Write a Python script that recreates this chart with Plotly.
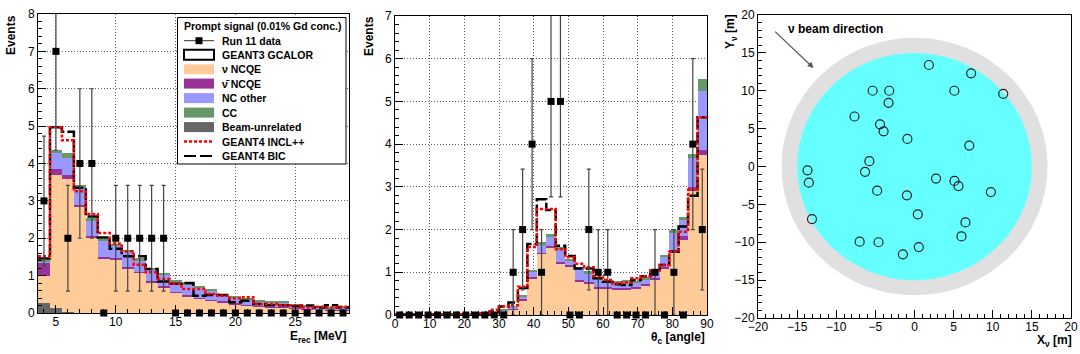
import numpy as np
import plotly.graph_objects as go

W, H = 1080, 354
FONT = "Liberation Sans, Arial, Helvetica, sans-serif"

# ---------------- left panel: E_rec, 1 MeV bins from 3.5 to 29.5 ----------------
erec_edges = np.arange(3.5, 30.0, 1.0)
erec_data = [3, 7, 2, 4, 4, 0, 2, 2, 2, 2, 2, 0, 0, 0, 0, 0, 0, 0, 0, 0, 0, 0, 0, 0, 0, 0]
erec_beam = [0.28, 0.14, 0.03, 0.01, 0, 0, 0, 0, 0, 0, 0, 0, 0, 0, 0, 0, 0, 0, 0, 0, 0, 0, 0, 0, 0, 0]
erec_nu_ncqe = [0.72, 3.56, 3.56, 2.82, 2.02, 1.46, 1.44, 1.20, 1.08, 0.82, 0.68, 0.55, 0.45,
                0.38, 0.33, 0.29, 0.24, 0.20, 0.18, 0.16, 0.14, 0.12, 0.10, 0.09, 0.08, 0.08]
erec_nubar_ncqe = [0.36, 0.14, 0.09, 0.07, 0.04, 0.04, 0.04, 0.04, 0.03, 0.03, 0.03, 0.02, 0.02,
                   0.02, 0.02, 0.02, 0.02, 0.02, 0.01, 0.01, 0.01, 0.01, 0.01, 0.01, 0.01, 0.01]
erec_nc_other = [0.03, 0.44, 0.47, 0.45, 0.42, 0.45, 0.32, 0.38, 0.29, 0.30, 0.30, 0.27, 0.30,
                 0.28, 0.24, 0.15, 0.16, 0.13, 0.12, 0.12, 0.12, 0.08, 0.06, 0.05, 0.04, 0.06]
erec_cc = [0.03, 0.07, 0.13, 0.08, 0.05, 0.03, 0.05, 0.07, 0.06, 0.06, 0.06, 0.05, 0.05,
           0.05, 0.05, 0.05, 0.04, 0.04, 0.04, 0.04, 0.04, 0.03, 0.03, 0.03, 0.02, 0.03]
erec_bic = [1.46, 4.97, 4.85, 3.35, 2.58, 2.02, 1.72, 1.52, 1.52, 1.18, 0.84, 0.78, 0.80,
            0.46, 0.48, 0.48, 0.29, 0.33, 0.24, 0.21, 0.21, 0.18, 0.20, 0.15, 0.21, 0.15]
erec_incl = [1.52, 4.97, 4.62, 3.26, 2.65, 2.14, 1.86, 1.65, 1.29, 1.09, 0.91, 0.78, 0.64,
             0.64, 0.51, 0.46, 0.39, 0.42, 0.24, 0.24, 0.21, 0.20, 0.15, 0.17, 0.15, 0.17]

# ---------------- middle panel: theta_c, 33 bins over 0..90 ----------------
theta_edges = np.linspace(0, 90, 34)
theta_data = [0, 0, 0, 0, 0, 0, 0, 0, 0, 0, 0, 0, 1, 2, 4, 1, 5, 5, 0, 0, 2, 1, 1,
              0, 0, 0, 0, 1, 0, 1, 0, 4, 2]
theta_nu_ncqe = [0, 0, 0, 0, 0, 0.01, 0.01, 0.01, 0.01, 0.02, 0.04, 0.08, 0.14, 0.35, 0.86,
                 1.43, 1.56, 1.20, 1.13, 0.78, 0.74, 0.63, 0.60, 0.59, 0.59, 0.63, 0.70,
                 0.82, 1.09, 1.46, 1.76, 2.90, 3.75]
theta_nubar_ncqe = [0, 0, 0, 0, 0, 0, 0, 0, 0, 0, 0.01, 0.01, 0.01, 0.02, 0.04, 0.03, 0.06,
                    0.03, 0.04, 0.04, 0.04, 0.03, 0.05, 0.04, 0.04, 0.03, 0.03, 0.04, 0.04,
                    0.06, 0.08, 0.10, 0.12]
theta_nc_other = [0, 0, 0, 0, 0, 0, 0, 0, 0, 0.01, 0.01, 0.02, 0.04, 0.06, 0.10, 0.20, 0.20,
                  0.29, 0.10, 0.27, 0.20, 0.16, 0.13, 0.13, 0.11, 0.10, 0.11, 0.16, 0.22,
                  0.41, 0.39, 0.67, 1.38]
theta_cc = [0, 0, 0, 0, 0, 0, 0, 0, 0, 0, 0.01, 0.02, 0.02, 0.03, 0.05, 0.04, 0.08, 0.07,
            0.03, 0.04, 0.04, 0.04, 0.04, 0.04, 0.08, 0.04, 0.04, 0.05, 0.06, 0.06, 0.07,
            0.10, 0.27]
theta_bic = [0.01, 0.01, 0.01, 0.01, 0.01, 0.01, 0.01, 0.01, 0.01, 0.02, 0.08, 0.20, 0.29,
             0.63, 1.66, 2.71, 2.46, 1.62, 1.38, 1.09, 1.09, 0.86, 0.78, 0.72, 0.70, 0.82,
             0.91, 1.02, 1.17, 1.48, 2.07, 2.79, 4.63]
theta_incl = [0.02, 0.02, 0.02, 0.02, 0.02, 0.02, 0.02, 0.02, 0.02, 0.04, 0.12, 0.20, 0.23,
              0.66, 1.59, 2.48, 2.48, 1.54, 1.35, 1.20, 1.12, 0.91, 0.82, 0.74, 0.76, 0.86,
              0.91, 1.04, 1.17, 1.48, 1.95, 2.93, 4.63]

# ---------------- right panel: event vertices ----------------
vtx_x = [1.84, 7.24, -5.35, -3.23, 5.09, 11.34, -3.32, -7.67, -4.41, -3.95, -0.91, 7.0,
         -5.77, -13.67, -6.32, -13.5, 2.75, 5.11, 5.62, -4.77, 9.76, -0.97, 0.42, -13.1,
         6.51, 6.0, -7.01, -4.6, 0.55, -1.48]
vtx_y = [13.4, 12.3, 10.0, 10.0, 10.0, 9.6, 8.4, 6.6, 5.57, 4.65, 3.64, 2.76, 0.7, -0.5,
         -0.7, -2.14, -1.6, -1.9, -2.58, -3.19, -3.37, -3.81, -6.32, -6.94, -7.38, -9.23,
         -9.93, -10.0, -10.64, -11.6]
tank_radius = 17.0
fiducial_radius = 15.0

legend_title = "Prompt signal (0.01% Gd conc.)"
legend_labels = ["Run 11 data", "GEANT3 GCALOR", "ν NCQE", "ν̄ NCQE", "NC other", "CC",
                 "Beam-unrelated", "GEANT4 INCL++", "GEANT4 BIC"]

C_NU = "#ffcc99"
C_NUBAR = "#993399"
C_NCO = "#9999ff"
C_CC = "#669966"
C_BEAM = "#666666"


def px(x):
    return x / W


def py(y):
    return 1 - y / H


fig = go.Figure()


def add_panel(edges, comps, bic, incl, data, xa, ya):
    edges = np.asarray(edges)
    centers = (edges[:-1] + edges[1:]) / 2
    width = edges[1] - edges[0]
    for vals, col in comps:
        fig.add_trace(go.Bar(x=centers, y=vals, width=width, marker_color=col,
                             marker_line_width=0, xaxis=xa, yaxis=ya))
    fig.add_trace(go.Scatter(x=edges, y=list(bic) + [bic[-1]], mode="lines", line_shape="hv",
                             line=dict(color="black", width=2.5, dash="12px,3px"),
                             xaxis=xa, yaxis=ya))
    fig.add_trace(go.Scatter(x=edges, y=list(incl) + [incl[-1]], mode="lines", line_shape="hv",
                             line=dict(color="#ff0000", width=2.5, dash="3px,2px"),
                             xaxis=xa, yaxis=ya))
    err = np.sqrt(np.asarray(data, dtype=float))
    fig.add_trace(go.Scatter(x=centers, y=data, mode="markers", marker=dict(size=1, opacity=0),
                             error_y=dict(type="data", array=err, color="#444444",
                                          thickness=1.2, width=2),
                             xaxis=xa, yaxis=ya))
    fig.add_trace(go.Scatter(x=centers, y=data, mode="markers", cliponaxis=False,
                             marker=dict(symbol="square", size=7, color="black"),
                             xaxis=xa, yaxis=ya))


add_panel(erec_edges,
          [(erec_beam, C_BEAM), (erec_nu_ncqe, C_NU), (erec_nubar_ncqe, C_NUBAR),
           (erec_nc_other, C_NCO), (erec_cc, C_CC)],
          erec_bic, erec_incl, erec_data, "x", "y")
add_panel(theta_edges,
          [(theta_nu_ncqe, C_NU), (theta_nubar_ncqe, C_NUBAR),
           (theta_nc_other, C_NCO), (theta_cc, C_CC)],
          theta_bic, theta_incl, theta_data, "x2", "y2")

fig.add_trace(go.Scatter(x=vtx_x, y=vtx_y, mode="markers",
                         marker=dict(symbol="circle-open", size=9, color="#222222",
                                     line=dict(width=1.2)),
                         xaxis="x3", yaxis="y3"))


def ax(**kw):
    d = dict(showline=True, linecolor="black", linewidth=1, mirror=True, ticks="inside",
             ticklen=8, tickcolor="black", zeroline=False, showgrid=True, automargin=False,
             gridcolor="#606060", griddash="1px,2px", gridwidth=1,
             tickfont=dict(family=FONT, size=12, color="black"))
    d.update(kw)
    return d


xmin = dict(ticklen=4, ticks="inside", tickcolor="black", tick0=0)

fig.update_layout(
    template="none",
    width=W, height=H, autosize=False, margin=dict(l=0, r=0, t=0, b=0, pad=0),
    paper_bgcolor="white", plot_bgcolor="white", barmode="stack", bargap=0,
    showlegend=False, font=dict(family=FONT, size=12, color="black"),
    xaxis=ax(domain=[px(38), px(349)], range=[3.5, 29.5], tickvals=[5, 10, 15, 20, 25],
             minor=dict(dtick=1, **xmin), ticklabelstandoff=-2, anchor="y"),
    yaxis=ax(domain=[py(313), py(14)], range=[0, 8], dtick=1,
             minor=dict(dtick=0.2, **xmin), anchor="x"),
    xaxis2=ax(domain=[px(395), px(707)], range=[0, 90], dtick=10,
              minor=dict(dtick=2, **xmin), ticklabelstandoff=-2, anchor="y2"),
    yaxis2=ax(domain=[py(315), py(16)], range=[0, 7], dtick=1,
              minor=dict(dtick=0.2, **xmin), anchor="x2"),
    xaxis3=ax(domain=[px(758), px(1071)], range=[-20, 20], dtick=5, showgrid=False,
              minor=dict(dtick=1, **xmin), ticklabelstandoff=-2, anchor="y3"),
    yaxis3=ax(domain=[py(318), py(15)], range=[-20, 20], dtick=5, showgrid=False,
              minor=dict(dtick=1, **xmin), anchor="x3"),
)

# detector circles in the right panel
fig.add_shape(type="circle", xref="x3", yref="y3", x0=-tank_radius, y0=-tank_radius,
              x1=tank_radius, y1=tank_radius, fillcolor="#e0e0e0", line_width=0, layer="below")
fig.add_shape(type="circle", xref="x3", yref="y3", x0=-fiducial_radius, y0=-fiducial_radius,
              x1=fiducial_radius, y1=fiducial_radius, fillcolor="#66ffff", line_width=0,
              layer="below")

fig.add_annotation(x=-12.9, y=13.0, ax=-18.0, ay=18.0, xref="x3", yref="y3", axref="x3",
                   ayref="y3", text="", showarrow=True, arrowhead=2, arrowsize=1,
                   arrowwidth=1.2, arrowcolor="#555555")
fig.add_annotation(x=-16.4, y=18.1, xref="x3", yref="y3", text="<b>ν beam direction</b>",
                   showarrow=False, xanchor="left", yanchor="middle",
                   font=dict(family=FONT, size=12, color="black"))

# axis titles
bold = dict(family=FONT, size=12, color="black")
titles = [
    ("<b>Events</b>", 11, 35, -90, "center"),
    ("<b>Events</b>", 369, 36, -90, "center"),
    ("<b>Y<sub>ν</sub> [m]</b>", 731, 32, -90, "center"),
    ("<b>E<sub>rec</sub> [MeV]</b>", 349, 337, 0, "right"),
    ("<b>θ<sub>c</sub> [angle]</b>", 707, 338, 0, "right"),
    ("<b>X<sub>ν</sub> [m]</b>", 1074, 341, 0, "right"),
]
for txt, x, y, ang, xa in titles:
    fig.add_annotation(x=px(x), y=py(y), xref="paper", yref="paper", text=txt,
                       showarrow=False, textangle=ang, xanchor=xa, yanchor="middle", font=bold)

# hand-made ROOT style legend
fig.add_shape(type="rect", xref="paper", yref="paper", x0=px(177.5), x1=px(346),
              y0=py(164), y1=py(17.5), line=dict(color="black", width=1),
              fillcolor="white", layer="above")
leg_font = dict(family=FONT, size=10.5, color="black")
fig.add_annotation(x=px(182), y=py(26), xref="paper", yref="paper",
                   text="<b>" + legend_title + "</b>", showarrow=False,
                   xanchor="left", yanchor="middle", font=leg_font)
row_y = [40.7, 54.8, 69.3, 83.6, 98.1, 112.6, 127.1, 141.6, 156.0]
s0, s1 = 184, 214
for i, (lab, y) in enumerate(zip(legend_labels, row_y)):
    fig.add_annotation(x=px(220), y=py(y), xref="paper", yref="paper", text="<b>" + lab + "</b>",
                       showarrow=False, xanchor="left", yanchor="middle", font=leg_font)
    if i == 0:
        fig.add_shape(type="line", xref="paper", yref="paper", x0=px(s0), x1=px(s1),
                      y0=py(y), y1=py(y), line=dict(color="#333333", width=1), layer="above")
        fig.add_shape(type="rect", xref="paper", yref="paper", x0=px(195.5), x1=px(202.5),
                      y0=py(y + 3.5), y1=py(y - 3.5), fillcolor="black", line_width=0,
                      layer="above")
    elif i == 1:
        fig.add_shape(type="rect", xref="paper", yref="paper", x0=px(s0), x1=px(s1),
                      y0=py(y + 5), y1=py(y - 5), fillcolor="white",
                      line=dict(color="black", width=2), layer="above")
    elif i < 7:
        col = [C_NU, C_NUBAR, C_NCO, C_CC, C_BEAM][i - 2]
        fig.add_shape(type="rect", xref="paper", yref="paper", x0=px(s0), x1=px(s1),
                      y0=py(y + 5), y1=py(y - 5), fillcolor=col, line_width=0, layer="above")
    elif i == 7:
        fig.add_shape(type="line", xref="paper", yref="paper", x0=px(s0), x1=px(s1),
                      y0=py(y), y1=py(y), line=dict(color="#ff0000", width=2.5, dash="3px,2px"),
                      layer="above")
    else:
        fig.add_shape(type="line", xref="paper", yref="paper", x0=px(s0), x1=px(s1),
                      y0=py(y), y1=py(y), line=dict(color="black", width=2, dash="12px,4px"),
                      layer="above")

# the page body has a default margin; drop it so the figure sits at the window corner
fig.write_html("out.html", config={"displayModeBar": False},
               post_script="document.body.style.margin='0px';")
